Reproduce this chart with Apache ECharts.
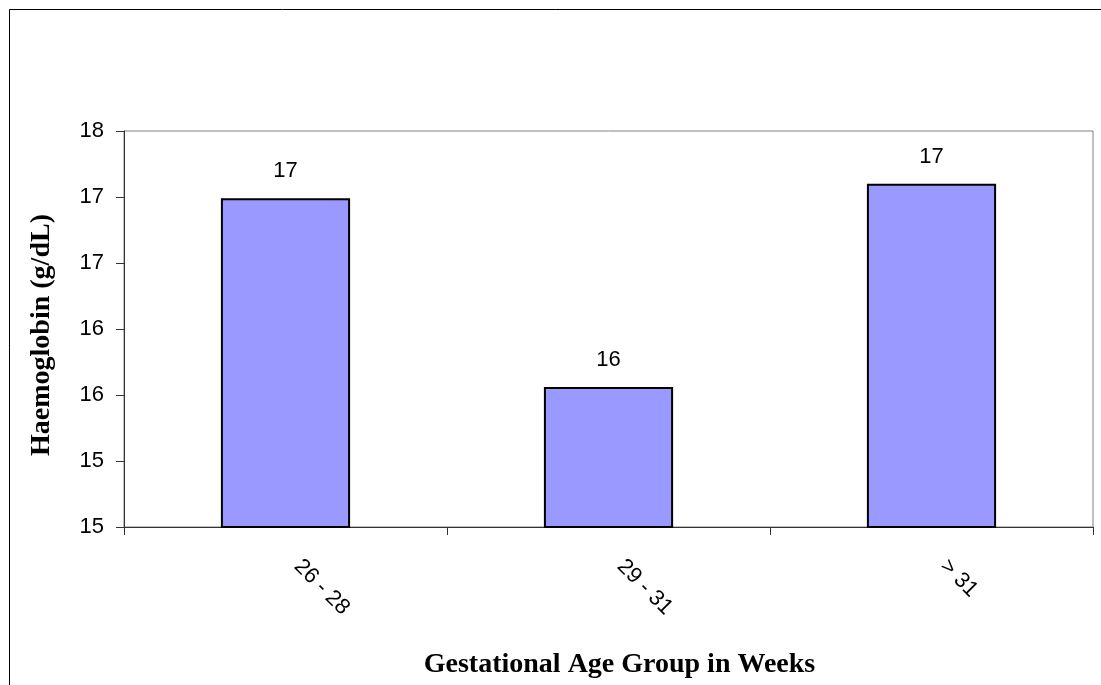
<!DOCTYPE html>
<html>
<head>
<meta charset="utf-8">
<script src="https://cdn.jsdelivr.net/npm/echarts@6/dist/echarts.min.js"></script>
<style>
  html, body { margin: 0; padding: 0; background: #fff; }
  #chart { width: 1101px; height: 685px; }
</style>
</head>
<body>
<div id="chart"></div>
<script>
// ---- data ----
const categories = ['26 - 28', '29 - 31', '> 31'];
const haemoglobin = [17.49, 16.06, 17.6];
const yMin = 15, yMax = 18, yStep = 0.5;
const xTitle = 'Gestational Age Group in Weeks';
const yTitle = 'Haemoglobin (g/dL)';

const chart = echarts.init(document.getElementById('chart'), null, { renderer: 'canvas' });

const sans = '"Liberation Sans", Arial, sans-serif';
const serif = '"Liberation Serif", "Times New Roman", serif';

chart.setOption({
  animation: false,
  backgroundColor: '#ffffff',
  graphic: [{
    type: 'rect',
    shape: { x: 9.5, y: 9.5, width: 1200, height: 800 },
    style: { fill: 'none', stroke: '#000', lineWidth: 1 },
    z: -1
  }],
  grid: {
    left: 124, top: 131, right: 8, bottom: 158,
    show: true, borderColor: '#808080', borderWidth: 1, backgroundColor: 'transparent'
  },
  xAxis: {
    type: 'category',
    data: categories,
    boundaryGap: true,
    axisLine: { lineStyle: { color: '#333', width: 1 } },
    axisTick: { show: true, length: 8, lineStyle: { color: '#333' } },
    axisLabel: {
      interval: 0, rotate: -45, margin: 24, padding: [0, 0, 0, 17],
      fontSize: 22, fontFamily: sans, color: '#000'
    },
    splitLine: { show: false },
    name: xTitle,
    nameLocation: 'middle',
    nameGap: 124,
    nameTextStyle: {
      fontSize: 28, fontWeight: 'bold', fontFamily: serif, color: '#000',
      padding: [0, 0, 0, 22]
    }
  },
  yAxis: {
    type: 'value',
    min: yMin, max: yMax, interval: yStep,
    axisLine: { show: true, lineStyle: { color: '#333', width: 1 } },
    axisTick: { show: true, length: 8, lineStyle: { color: '#333' } },
    axisLabel: {
      margin: 20, fontSize: 22, fontFamily: sans, color: '#000',
      formatter: v => String(Math.floor(v))
    },
    splitLine: { show: false },
    name: yTitle,
    nameLocation: 'middle',
    nameRotate: 90,
    nameGap: 68,
    nameTextStyle: {
      fontSize: 28, fontWeight: 'bold', fontFamily: serif, color: '#000',
      padding: [0, 12, 0, 0]
    }
  },
  series: [{
    type: 'bar',
    data: haemoglobin,
    barWidth: '40%',
    itemStyle: { color: '#9999FF', borderColor: '#000', borderWidth: 2 },
    label: {
      show: true, position: 'top', distance: 16,
      fontSize: 22, fontFamily: sans, color: '#000',
      formatter: p => String(Math.floor(p.value))
    }
  }]
});
</script>
</body>
</html>
